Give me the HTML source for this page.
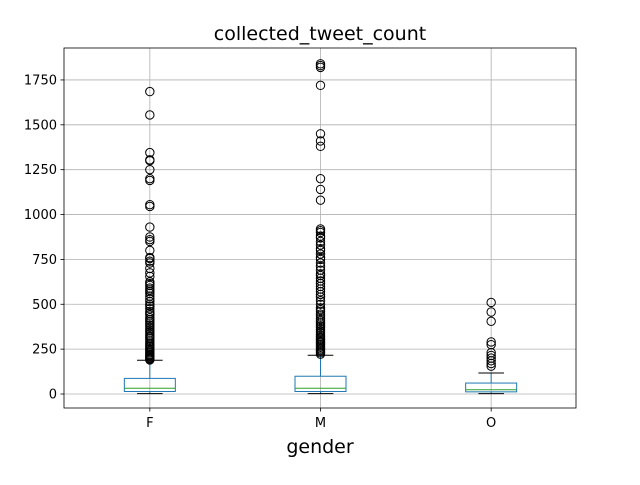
<!DOCTYPE html>
<html><head><meta charset="utf-8"><style>
body{margin:0;background:#fff;width:640px;height:480px;overflow:hidden}
text{font-family:"DejaVu Sans","Liberation Sans",sans-serif}
</style></head><body>
<svg id="chart" width="640" height="480" xmlns="http://www.w3.org/2000/svg"></svg>
<script>
const categories = ["F","M","O"];
const q1 = [14, 14, 12];
const medians = [32, 32, 24];
const q3 = [87, 99, 61];
const whiskerLow = [2, 2, 2];
const whiskerHigh = [188, 216, 117];
const outliersF = [190,195,200,205,210,215,220,228,235,242,250,258,265,272,280,290,300,310,318,325,335,345,355,365,375,385,395,405,415,425,440,450,460,475,490,500,515,530,545,560,570,580,590,605,615,625,655,675,700,730,740,755,760,800,850,860,875,930,1045,1055,1190,1200,1250,1300,1305,1345,1555,1685];
const outliersM = [222,230,238,245,252,260,268,275,283,290,298,305,312,320,330,340,350,360,370,380,390,400,410,420,435,445,460,470,480,500,520,540,555,570,585,600,615,630,645,660,670,690,710,730,750,760,780,800,810,830,850,870,880,900,910,920,1080,1140,1200,1380,1410,1450,1720,1820,1830,1840];
const outliersO = [155,170,185,200,215,230,275,290,405,457,510];
const outliers = [outliersF, outliersM, outliersO];
const yTicks = [0,250,500,750,1000,1250,1500,1750];

const L=64,R=576,T=48,B=408;
const yMin=-78, yMax=1928;
const y = v => B - (v - yMin)/(yMax - yMin)*(B - T);
const x = i => L + (i + 0.5)/categories.length*(R - L) + 0.5;
const svg = document.getElementById('chart');
const NS='http://www.w3.org/2000/svg';
function mk(tag, attrs, parent){const e=document.createElementNS(NS,tag);for(const k in attrs)e.setAttribute(k,attrs[k]);(parent||svg).appendChild(e);return e;}

// grid
yTicks.forEach(t=>{
  const g=mk('line',{x1:L,x2:R,y1:y(t),y2:y(t),stroke:'#b0b0b0','stroke-width':0.8});
  
  
  mk('line',{x1:L-3.5,x2:L,y1:y(t),y2:y(t),stroke:'#000','stroke-width':0.8});
  const tx=mk('text',{x:L-7,y:y(t)+4.5,'text-anchor':'end','font-size':'13px',fill:'#000'});
  tx.textContent=t;
  
  
});
categories.forEach((c,i)=>{
  const g=mk('line',{x1:x(i),x2:x(i),y1:T,y2:B,stroke:'#b0b0b0','stroke-width':0.8});
  
  
  mk('line',{x1:x(i),x2:x(i),y1:B,y2:B+3.5,stroke:'#000','stroke-width':0.8});
  const tx=mk('text',{x:x(i),y:B+19,'text-anchor':'middle','font-size':'13px',fill:'#000'});
  tx.textContent=c;
  
  
});
// boxes
const hw=25.5, cw=12.8;
categories.forEach((c,i)=>{
  const g=mk('g',{});
  
  
  const cx=x(i);
  mk('line',{x1:cx,x2:cx,y1:y(q3[i]),y2:y(whiskerHigh[i]),stroke:'#1f77b4','stroke-width':1},g);
  mk('line',{x1:cx,x2:cx,y1:y(q1[i]),y2:y(whiskerLow[i]),stroke:'#1f77b4','stroke-width':1},g);
  mk('line',{x1:cx-cw,x2:cx+cw,y1:y(whiskerHigh[i]),y2:y(whiskerHigh[i]),stroke:'#000','stroke-width':1},g);
  mk('line',{x1:cx-cw,x2:cx+cw,y1:y(whiskerLow[i]),y2:y(whiskerLow[i]),stroke:'#000','stroke-width':1},g);
  mk('rect',{x:cx-hw,y:y(q3[i]),width:2*hw,height:y(q1[i])-y(q3[i]),fill:'none',stroke:'#1f77b4','stroke-width':1},g);
  mk('line',{x1:cx-hw,x2:cx+hw,y1:y(medians[i]),y2:y(medians[i]),stroke:'#2ca02c','stroke-width':1},g);
  outliers[i].forEach(v=>{
    const o=mk('circle',{cx:cx,cy:y(v),r:4.2,fill:'none',stroke:'#000','stroke-width':1},g);
    
    
  });
});
// frame
const f=mk('rect',{x:L,y:T,width:R-L,height:B-T,fill:'none',stroke:'#000','stroke-width':0.8});


const title=mk('text',{x:(L+R)/2,y:T-8,'text-anchor':'middle','font-size':'19px',fill:'#000'});
title.textContent='collected_tweet_count';


const xl=mk('text',{x:(L+R)/2,y:453,'text-anchor':'middle','font-size':'19px',fill:'#000'});
xl.textContent='gender';


</script>
</body></html>
